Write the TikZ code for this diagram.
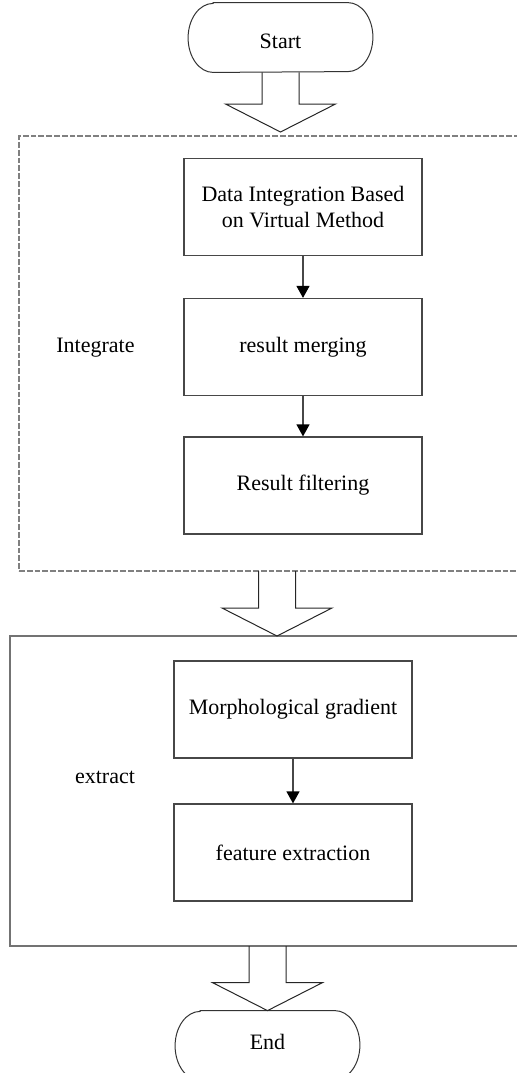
\documentclass[tikz,border=0pt]{standalone}
\usepackage{fontspec}
\setmainfont{Liberation Serif}
\usetikzlibrary{arrows.meta,calc}

% outline of a terminal (start/end) with elliptic ends
\newcommand\drawterminal[1]{%
  \draw[termline] ([xshift=12.5pt]#1.north west) -- ([xshift=-12.5pt]#1.north east)
    arc[start angle=90,end angle=-90,x radius=12.5pt,y radius=17.25pt]
    -- ([xshift=12.5pt]#1.south west)
    arc[start angle=270,end angle=90,x radius=12.5pt,y radius=17.25pt] -- cycle;}

\tikzset{
  txt/.style={font=\fontsize{11}{13}\selectfont, text=black},
  terminal/.style={txt, minimum width=92pt, minimum height=34.5pt, inner sep=0pt},
  termline/.style={draw=black!80, line width=0.5pt},
  procbox/.style={txt, draw=black!72, line width=0.6pt, minimum width=119pt,
                  minimum height=48.5pt, inner sep=0pt, align=center},
  groupdash/.style={draw=black!50, line width=0.7pt, dash pattern=on 2.9pt off 1pt,
                    inner sep=0pt, outer sep=0pt},
  groupsolid/.style={draw=black!55, line width=0.8pt, inner sep=0pt, outer sep=0pt},
  flow/.style={draw=black!72, line width=0.6pt,
               -{Triangle[length=6pt,width=6.5pt,color=black]}},
  blockarrow/.style={draw=black!85, line width=0.5pt, to path={
    let \p1=(\tikztostart), \p2=(\tikztotarget) in
    (\x1-9.25pt,\y1) -- (\x1-9.25pt,\y2+14pt) -- (\x1-27.5pt,\y2+14pt) -- (\x1,\y2)
    -- (\x1+27.5pt,\y2+14pt) -- (\x1+9.25pt,\y2+14pt) -- (\x1+9.25pt,\y1)}},
}

\begin{document}
\begin{tikzpicture}[x=0.5pt,y=-0.5pt]
\useasboundingbox (0,0) rectangle (517,1073);
\clip (0,0) rectangle (517,1073);

% group frames
\node[groupdash, minimum width=250.5pt, minimum height=217.5pt] (integ) at (269.5,353.5) {};
\node[groupsolid, minimum width=255pt, minimum height=155pt] (extr) at (265,791) {};

% terminals
\node[terminal] (start) at (280.5,37.5) {};
\drawterminal{start}
\node[txt] (starttxt) at (280.5,41) {Start};
\node[terminal] (end) at (267.5,1045.5) {};
\drawterminal{end}
\node[txt] (endtxt) at (267.5,1042) {End};

% process steps
\node[procbox] (virt) at (303,207) {Data Integration Based\\on Virtual Method};
\node[procbox] (merge) at (303,347) {result merging};
\node[procbox] (filter) at (303,485.5) {Result filtering};
\node[procbox] (morph) at (293,709.5) {Morphological gradient};
\node[procbox] (feat) at (293,852.5) {feature extraction};

% group labels
\node[txt] (lblint) at (95.5,348) {Integrate};
\node[txt] (lblext) at (105,777) {extract};

% flow inside groups
\draw[flow] (virt) -- (merge);
\draw[flow] (merge) -- (filter);
\draw[flow] (morph) -- (feat);

% block arrows between stages
\coordinate (tip1) at (280.5,132);
\coordinate (base2) at (277,571);
\coordinate (tip2) at (277,636);
\coordinate (base3) at (267.5,946);
\draw[blockarrow] (start.south) to (tip1);
\draw[blockarrow] (base2) to (tip2);
\draw[blockarrow] (base3) to (end.north);
\end{tikzpicture}
\end{document}
